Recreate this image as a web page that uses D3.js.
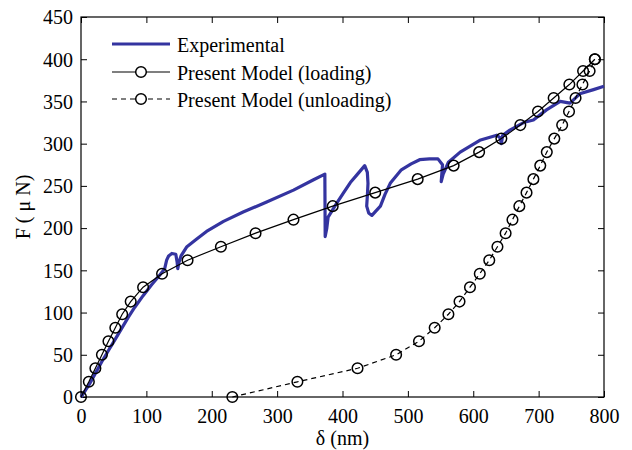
<!DOCTYPE html>
<html><head><meta charset="utf-8">
<script src="https://cdn.jsdelivr.net/npm/d3@7"></script>
<style>
html,body{margin:0;padding:0;background:#fff;}
text{font-family:"Liberation Serif","Times New Roman",serif;fill:#000;}
</style></head>
<body>
<svg id="c" width="632" height="450"></svg>
<script>
// ---- data ----
const xTicks = [0,100,200,300,400,500,600,700,800];
const yTicks = [0,50,100,150,200,250,300,350,400,450];

const expX = [0,12,22,32,42,52,62,72,82,95,108,120,128,131,134,139,145,147,148,150,153,162,177,192,218,248,284,325,355,373,373.5,376,378,390,401,412,422,434,438,439,438,437,440,445,452,458,465,473,490,505,518,533,546,553,551,554,562,580,610,636,641,643,645,656,677,692,712,733,748,763,784,800];
const expY = [0,14,28,42,55,68,81,94,106,120,133,144,152,162,167,170,169,160,152,160,167,178,187,196,208,219,231,245,257,264,190,200,213,228,241,254,263,274,266,253,238,226,218,215,221,226,240,253,269,276,281,282,282,275,255,264,278,290,304,310,307,300,310,316,325,328,340,350,348,359,364,368];

const modelY = [0,18,34,50,66,82,98,113,130,146,162,178,194,210,226,242,258,274,290,306,322,338,354,370,386,400];
const loadX = [0,12,22,32,42,52.5,63,76,95,124,163,214,267,325,385,450,515,570,609,643,672,699,723,747,768,786];
const unloadX = [231.5,331,423,482,517,541,562,579,595,610,624.5,637,649.5,660,670.5,681.5,692,702.5,712.5,724,736,746.5,756.5,767,778,786];

const legendLabels = ["Experimental","Present Model (loading)","Present Model (unloading)"];

// ---- chart ----
const svg = d3.select("#c");
const L=81, R=604, T=17, B=397;
const x = d3.scaleLinear().domain([0,800]).range([L,R]);
const y = d3.scaleLinear().domain([0,450]).range([B,T]);
const blue = "#3434a0";

// frame
svg.append("rect").attr("x",L).attr("y",T).attr("width",R-L).attr("height",B-T)
  .attr("fill","none").attr("stroke","#000").attr("stroke-width",1.2);

// axes with inward ticks
const fs = 20;
const gBottom = svg.append("g").attr("transform",`translate(0,${B})`)
  .call(d3.axisBottom(x).tickValues(xTicks).tickSize(-6).tickPadding(12).tickFormat(d3.format("d")));
const gTop = svg.append("g").attr("transform",`translate(0,${T})`)
  .call(d3.axisTop(x).tickValues(xTicks).tickSize(-6).tickFormat(""));
const gLeft = svg.append("g").attr("transform",`translate(${L},0)`)
  .call(d3.axisLeft(y).tickValues(yTicks).tickSize(-6).tickPadding(8).tickFormat(d3.format("d")));
const gRight = svg.append("g").attr("transform",`translate(${R},0)`)
  .call(d3.axisRight(y).tickValues(yTicks).tickSize(-6).tickFormat(""));
[gBottom,gTop,gLeft,gRight].forEach(g=>{
  g.select(".domain").remove();
  g.selectAll(".tick line").attr("stroke","#000").attr("stroke-width",1);
  g.selectAll("text").attr("font-family","Liberation Serif").attr("font-size",fs).attr("fill","#000");
});
gBottom.selectAll("text").attr("dy","0.71em");
gLeft.selectAll("text").attr("dy","0.34em");

// axis labels
svg.append("text").attr("x",(L+R)/2).attr("y",445).attr("text-anchor","middle")
  .attr("font-size",fs).text("δ (nm)");
svg.append("text").attr("transform",`translate(30,${(T+B)/2}) rotate(-90)`)
  .attr("text-anchor","middle").attr("font-size",fs).text("F ( μ N)");

// experimental
const expData = expX.map((d,i)=>[d,expY[i]]);
const line = d3.line().x(d=>x(d[0])).y(d=>y(d[1]));
svg.append("path").datum(expData).attr("d",line).attr("fill","none")
  .attr("stroke",blue).attr("stroke-width",3.2).attr("stroke-linejoin","round");

// model loading
const loadData = loadX.map((d,i)=>[d,modelY[i]]);
svg.append("path").datum(loadData).attr("d",line).attr("fill","none")
  .attr("stroke","#000").attr("stroke-width",1.2);
svg.append("g").selectAll("circle").data(loadData).join("circle")
  .attr("cx",d=>x(d[0])).attr("cy",d=>y(d[1])).attr("r",5.3)
  .attr("fill","none").attr("stroke","#000").attr("stroke-width",1.5);

// model unloading
const unloadData = unloadX.map((d,i)=>[d,modelY[i]]);
svg.append("path").datum(unloadData).attr("d",line).attr("fill","none")
  .attr("stroke","#000").attr("stroke-width",1.2).attr("stroke-dasharray","5,4");
svg.append("g").selectAll("circle").data(unloadData).join("circle")
  .attr("cx",d=>x(d[0])).attr("cy",d=>y(d[1])).attr("r",5.3)
  .attr("fill","none").attr("stroke","#000").attr("stroke-width",1.5);

// legend
const lg = svg.append("g");
const rowsY = [44,72,99];
legendLabels.forEach((lab,i)=>{
  const yy = rowsY[i];
  const ln = lg.append("line").attr("x1",112).attr("x2",170).attr("y1",yy).attr("y2",yy);
  if(i===0) ln.attr("stroke",blue).attr("stroke-width",3.2);
  else {
    ln.attr("stroke","#000").attr("stroke-width",1.2);
    if(i===2) ln.attr("stroke-dasharray","5,4");
    lg.append("circle").attr("cx",141).attr("cy",yy).attr("r",5.3)
      .attr("fill","#fff").attr("stroke","#000").attr("stroke-width",1.5);
  }
  lg.append("text").attr("x",177).attr("y",yy+7.5).attr("font-size",fs).text(lab);
});
</script>
</body></html>
